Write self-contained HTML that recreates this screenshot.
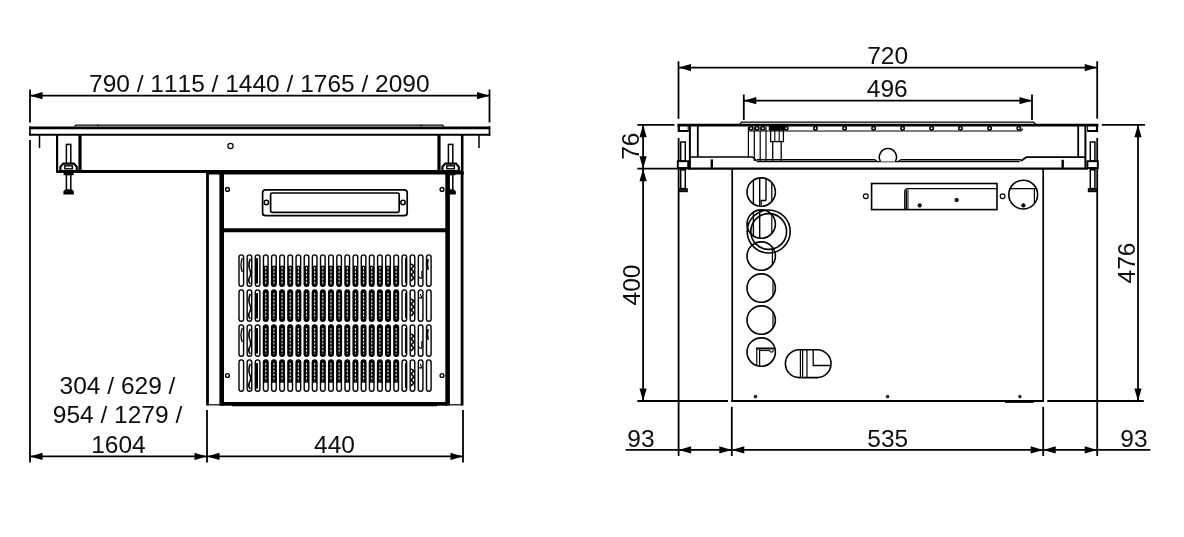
<!DOCTYPE html>
<html><head><meta charset="utf-8"><title>Dimensions</title>
<style>
html,body{margin:0;padding:0;background:#fff;}
body{width:1184px;height:537px;overflow:hidden;}
svg{display:block;will-change:transform;}
svg text{font-kerning:none;font-family:"Liberation Sans",Arial,sans-serif;font-size:24.5px;fill:#0d0d0d;stroke:none;}
</style></head><body>
<svg width="1184" height="537" viewBox="0 0 1184 537" stroke="#000" fill="none" stroke-linecap="butt">
<rect x="0" y="0" width="1184" height="537" fill="#fff" stroke="none"/>
<line x1="30" y1="89.5" x2="30" y2="122.5" stroke-width="1.8" />
<line x1="489.5" y1="89.5" x2="489.5" y2="122.5" stroke-width="1.8" />
<line x1="30" y1="95.7" x2="489.5" y2="95.7" stroke-width="1.8" />
<polygon points="30,95.7 42.5,92.10000000000001 42.5,99.3" fill="#000" stroke="none"/>
<polygon points="489.5,95.7 477.0,92.10000000000001 477.0,99.3" fill="#000" stroke="none"/>
<text x="259.3" y="92" text-anchor="middle">790 / 1115 / 1440 / 1765 / 2090</text>
<line x1="30" y1="140" x2="30" y2="462.5" stroke-width="1.8" />
<line x1="207" y1="410" x2="207" y2="462.5" stroke-width="1.8" />
<line x1="463" y1="410" x2="463" y2="462.5" stroke-width="1.8" />
<line x1="30" y1="456.4" x2="463" y2="456.4" stroke-width="1.8" />
<polygon points="30,456.4 42.5,452.79999999999995 42.5,460.0" fill="#000" stroke="none"/>
<polygon points="207,456.4 194.5,452.79999999999995 194.5,460.0" fill="#000" stroke="none"/>
<polygon points="207,456.4 219.5,452.79999999999995 219.5,460.0" fill="#000" stroke="none"/>
<polygon points="463,456.4 450.5,452.79999999999995 450.5,460.0" fill="#000" stroke="none"/>
<text x="334.5" y="452.5" text-anchor="middle">440</text>
<text x="117.5" y="394" text-anchor="middle">304 / 629 /</text>
<text x="117.5" y="423" text-anchor="middle">954 / 1279 /</text>
<text x="118.4" y="452.5" text-anchor="middle">1604</text>
<line x1="29.2" y1="127.8" x2="490.2" y2="127.8" stroke-width="2.8" />
<line x1="29.2" y1="134.7" x2="490.3" y2="134.7" stroke-width="2.0" />
<line x1="30" y1="126.2" x2="30" y2="135.6" stroke-width="1.7" />
<line x1="489.5" y1="126.2" x2="489.5" y2="135.6" stroke-width="1.7" />
<path d="M74.5 126.4 L76 125.2 L442.5 125.2 L444 126.4" stroke-width="1.2" fill="none" />
<line x1="98" y1="124.6" x2="98" y2="126.4" stroke-width="1" />
<line x1="421" y1="124.6" x2="421" y2="126.4" stroke-width="1" />
<line x1="39.5" y1="135" x2="39.5" y2="148" stroke-width="1.5" />
<line x1="479" y1="135" x2="479" y2="148" stroke-width="1.5" />
<line x1="57.1" y1="135" x2="57.1" y2="172.8" stroke-width="2.2" />
<line x1="57.1" y1="171.6" x2="81" y2="171.6" stroke-width="2.6" />
<line x1="80" y1="135" x2="80" y2="172.8" stroke-width="3.2" />
<line x1="462.2" y1="135" x2="462.2" y2="172" stroke-width="2.6" />
<line x1="439" y1="135" x2="439" y2="172.8" stroke-width="3.2" />
<line x1="439" y1="171.6" x2="462.5" y2="171.6" stroke-width="2.6" />
<line x1="80" y1="171.4" x2="439" y2="171.4" stroke-width="3" />
<circle cx="230.5" cy="146" r="2.6" stroke-width="1.2" fill="none"/>
<rect x="66.39999999999999" y="144.4" width="4.4" height="20" rx="0" stroke-width="1.5" fill="#fff"/>
<path d="M60.39999999999999 171 L60.39999999999999 166.8 L63.199999999999996 163.6 L74.0 163.6 L76.8 166.8 L76.8 171 Z" stroke-width="2.2" fill="#fff" />
<rect x="64.8" y="165.8" width="7.6" height="3" rx="0" stroke-width="1.4" fill="#fff"/>
<rect x="64.19999999999999" y="172.4" width="8.8" height="2.2" rx="0" stroke-width="1.2" fill="#000"/>
<rect x="66.39999999999999" y="174.6" width="4.4" height="15.6" rx="0" stroke-width="1.5" fill="#fff"/>
<path d="M63.99999999999999 194 L63.99999999999999 191.6 L65.39999999999999 190.2 L71.8 190.2 L73.19999999999999 191.6 L73.19999999999999 194 Z" stroke-width="1.2" fill="#000" />
<rect x="448.40000000000003" y="144.4" width="4.4" height="20" rx="0" stroke-width="1.5" fill="#fff"/>
<path d="M442.40000000000003 171 L442.40000000000003 166.8 L445.20000000000005 163.6 L456.0 163.6 L458.8 166.8 L458.8 171 Z" stroke-width="2.2" fill="#fff" />
<rect x="446.8" y="165.8" width="7.6" height="3" rx="0" stroke-width="1.4" fill="#fff"/>
<rect x="446.20000000000005" y="172.4" width="8.8" height="2.2" rx="0" stroke-width="1.2" fill="#000"/>
<rect x="448.40000000000003" y="174.6" width="4.4" height="15.6" rx="0" stroke-width="1.5" fill="#fff"/>
<path d="M446.0 194 L446.0 191.6 L447.40000000000003 190.2 L453.8 190.2 L455.20000000000005 191.6 L455.20000000000005 194 Z" stroke-width="1.2" fill="#000" />
<line x1="207.5" y1="171.4" x2="207.5" y2="405.4" stroke-width="2.8" />
<line x1="462.1" y1="171.4" x2="462.1" y2="405.4" stroke-width="2.8" />
<line x1="221.7" y1="171.4" x2="221.7" y2="405.6" stroke-width="4.6" />
<line x1="447.6" y1="171.4" x2="447.6" y2="405.6" stroke-width="4.6" />
<line x1="206.1" y1="173.2" x2="463.9" y2="173.2" stroke-width="2.6" />
<line x1="221" y1="230.3" x2="447.6" y2="230.3" stroke-width="4.1" />
<line x1="221" y1="403.9" x2="447.6" y2="403.9" stroke-width="3.6" />
<line x1="207" y1="404.8" x2="221" y2="404.8" stroke-width="1.2" />
<line x1="447.6" y1="404.8" x2="463" y2="404.8" stroke-width="1.2" />
<line x1="232" y1="405.6" x2="437" y2="405.6" stroke-width="1.4" />
<circle cx="227.5" cy="189.4" r="1.9" stroke-width="1.4" fill="none"/>
<circle cx="227.5" cy="375.5" r="1.9" stroke-width="1.4" fill="none"/>
<circle cx="442" cy="189.4" r="1.9" stroke-width="1.4" fill="none"/>
<circle cx="442" cy="375.5" r="1.9" stroke-width="1.4" fill="none"/>
<rect x="262.6" y="189.8" width="144.6" height="25.9" rx="3" stroke-width="1.7" fill="none"/>
<rect x="270.6" y="193" width="128.6" height="19.3" rx="1.5" stroke-width="1.7" fill="none"/>
<circle cx="266.4" cy="202.5" r="2.2" stroke-width="1.5" fill="none"/>
<circle cx="403" cy="202.5" r="2.2" stroke-width="1.5" fill="none"/>
<rect x="239.0" y="254.9" width="4.6" height="31.3" rx="2.3" stroke-width="1.4" fill="#fff"/>
<path d="M242.30 257.9 q-2.6 7 0 14" stroke-width="1.3" fill="none" />
<rect x="247.15" y="254.9" width="4.6" height="31.3" rx="2.3" stroke-width="1.4" fill="#fff"/>
<path d="M250.25 258.9 q-2.4 6 -0.4 11 q2 4 -0.6 8 q-1.4 3 1 6" stroke-width="1.6" fill="none" />
<rect x="255.3" y="254.9" width="4.6" height="31.3" rx="2.3" stroke-width="1.4" fill="#fff"/>
<path d="M255.90 258.1 L258.00 258.1 L258.00 283.59999999999997 L255.90 283.59999999999997 Z" stroke-width="0" fill="#000" />
<rect x="263.46" y="254.9" width="4.6" height="31.3" rx="2.3" stroke-width="1.4" fill="#fff"/>
<path d="M263.46 265.7 L268.06 265.7 L268.06 283.9 A2.3 2.3 0 0 1 263.46 283.9 Z" stroke-width="0" fill="#000" />
<line x1="265.76" y1="267.1" x2="265.76" y2="283.7" stroke-width="1.1" stroke="#e8e8e8" stroke-dasharray="2.3 1.3"/>
<rect x="271.61" y="254.9" width="4.6" height="31.3" rx="2.3" stroke-width="1.4" fill="#fff"/>
<path d="M271.61 265.7 L276.21 265.7 L276.21 283.9 A2.3 2.3 0 0 1 271.61 283.9 Z" stroke-width="0" fill="#000" />
<line x1="273.91" y1="267.1" x2="273.91" y2="283.7" stroke-width="1.1" stroke="#e8e8e8" stroke-dasharray="2.3 1.3"/>
<rect x="279.76" y="254.9" width="4.6" height="31.3" rx="2.3" stroke-width="1.4" fill="#fff"/>
<path d="M279.76 265.7 L284.36 265.7 L284.36 283.9 A2.3 2.3 0 0 1 279.76 283.9 Z" stroke-width="0" fill="#000" />
<line x1="282.06" y1="267.1" x2="282.06" y2="283.7" stroke-width="1.1" stroke="#e8e8e8" stroke-dasharray="2.3 1.3"/>
<rect x="287.91" y="254.9" width="4.6" height="31.3" rx="2.3" stroke-width="1.4" fill="#fff"/>
<path d="M287.91 265.7 L292.51 265.7 L292.51 283.9 A2.3 2.3 0 0 1 287.91 283.9 Z" stroke-width="0" fill="#000" />
<line x1="290.21" y1="267.1" x2="290.21" y2="283.7" stroke-width="1.1" stroke="#e8e8e8" stroke-dasharray="2.3 1.3"/>
<rect x="296.06" y="254.9" width="4.6" height="31.3" rx="2.3" stroke-width="1.4" fill="#fff"/>
<path d="M296.06 265.7 L300.66 265.7 L300.66 283.9 A2.3 2.3 0 0 1 296.06 283.9 Z" stroke-width="0" fill="#000" />
<line x1="298.36" y1="267.1" x2="298.36" y2="283.7" stroke-width="1.1" stroke="#e8e8e8" stroke-dasharray="2.3 1.3"/>
<rect x="304.22" y="254.9" width="4.6" height="31.3" rx="2.3" stroke-width="1.4" fill="#fff"/>
<path d="M304.22 265.7 L308.82 265.7 L308.82 283.9 A2.3 2.3 0 0 1 304.22 283.9 Z" stroke-width="0" fill="#000" />
<line x1="306.52" y1="267.1" x2="306.52" y2="283.7" stroke-width="1.1" stroke="#e8e8e8" stroke-dasharray="2.3 1.3"/>
<rect x="312.37" y="254.9" width="4.6" height="31.3" rx="2.3" stroke-width="1.4" fill="#fff"/>
<path d="M312.37 265.7 L316.97 265.7 L316.97 283.9 A2.3 2.3 0 0 1 312.37 283.9 Z" stroke-width="0" fill="#000" />
<line x1="314.67" y1="267.1" x2="314.67" y2="283.7" stroke-width="1.1" stroke="#e8e8e8" stroke-dasharray="2.3 1.3"/>
<rect x="320.52" y="254.9" width="4.6" height="31.3" rx="2.3" stroke-width="1.4" fill="#fff"/>
<path d="M320.52 265.7 L325.12 265.7 L325.12 283.9 A2.3 2.3 0 0 1 320.52 283.9 Z" stroke-width="0" fill="#000" />
<line x1="322.82" y1="267.1" x2="322.82" y2="283.7" stroke-width="1.1" stroke="#e8e8e8" stroke-dasharray="2.3 1.3"/>
<rect x="328.67" y="254.9" width="4.6" height="31.3" rx="2.3" stroke-width="1.4" fill="#fff"/>
<path d="M328.67 265.7 L333.27 265.7 L333.27 283.9 A2.3 2.3 0 0 1 328.67 283.9 Z" stroke-width="0" fill="#000" />
<line x1="330.97" y1="267.1" x2="330.97" y2="283.7" stroke-width="1.1" stroke="#e8e8e8" stroke-dasharray="2.3 1.3"/>
<rect x="336.82" y="254.9" width="4.6" height="31.3" rx="2.3" stroke-width="1.4" fill="#fff"/>
<path d="M336.82 265.7 L341.42 265.7 L341.42 283.9 A2.3 2.3 0 0 1 336.82 283.9 Z" stroke-width="0" fill="#000" />
<line x1="339.12" y1="267.1" x2="339.12" y2="283.7" stroke-width="1.1" stroke="#e8e8e8" stroke-dasharray="2.3 1.3"/>
<rect x="344.98" y="254.9" width="4.6" height="31.3" rx="2.3" stroke-width="1.4" fill="#fff"/>
<path d="M344.98 265.7 L349.58 265.7 L349.58 283.9 A2.3 2.3 0 0 1 344.98 283.9 Z" stroke-width="0" fill="#000" />
<line x1="347.28" y1="267.1" x2="347.28" y2="283.7" stroke-width="1.1" stroke="#e8e8e8" stroke-dasharray="2.3 1.3"/>
<rect x="353.13" y="254.9" width="4.6" height="31.3" rx="2.3" stroke-width="1.4" fill="#fff"/>
<path d="M353.13 265.7 L357.73 265.7 L357.73 283.9 A2.3 2.3 0 0 1 353.13 283.9 Z" stroke-width="0" fill="#000" />
<line x1="355.43" y1="267.1" x2="355.43" y2="283.7" stroke-width="1.1" stroke="#e8e8e8" stroke-dasharray="2.3 1.3"/>
<rect x="361.28" y="254.9" width="4.6" height="31.3" rx="2.3" stroke-width="1.4" fill="#fff"/>
<path d="M361.28 265.7 L365.88 265.7 L365.88 283.9 A2.3 2.3 0 0 1 361.28 283.9 Z" stroke-width="0" fill="#000" />
<line x1="363.58" y1="267.1" x2="363.58" y2="283.7" stroke-width="1.1" stroke="#e8e8e8" stroke-dasharray="2.3 1.3"/>
<rect x="369.43" y="254.9" width="4.6" height="31.3" rx="2.3" stroke-width="1.4" fill="#fff"/>
<path d="M369.43 265.7 L374.03 265.7 L374.03 283.9 A2.3 2.3 0 0 1 369.43 283.9 Z" stroke-width="0" fill="#000" />
<line x1="371.73" y1="267.1" x2="371.73" y2="283.7" stroke-width="1.1" stroke="#e8e8e8" stroke-dasharray="2.3 1.3"/>
<rect x="377.58" y="254.9" width="4.6" height="31.3" rx="2.3" stroke-width="1.4" fill="#fff"/>
<path d="M377.58 265.7 L382.18 265.7 L382.18 283.9 A2.3 2.3 0 0 1 377.58 283.9 Z" stroke-width="0" fill="#000" />
<line x1="379.88" y1="267.1" x2="379.88" y2="283.7" stroke-width="1.1" stroke="#e8e8e8" stroke-dasharray="2.3 1.3"/>
<rect x="385.74" y="254.9" width="4.6" height="31.3" rx="2.3" stroke-width="1.4" fill="#fff"/>
<path d="M385.74 265.7 L390.34 265.7 L390.34 283.9 A2.3 2.3 0 0 1 385.74 283.9 Z" stroke-width="0" fill="#000" />
<line x1="388.04" y1="267.1" x2="388.04" y2="283.7" stroke-width="1.1" stroke="#e8e8e8" stroke-dasharray="2.3 1.3"/>
<rect x="393.89" y="254.9" width="4.6" height="31.3" rx="2.3" stroke-width="1.4" fill="#fff"/>
<path d="M393.89 265.7 L398.49 265.7 L398.49 283.9 A2.3 2.3 0 0 1 393.89 283.9 Z" stroke-width="0" fill="#000" />
<line x1="396.19" y1="267.1" x2="396.19" y2="283.7" stroke-width="1.1" stroke="#e8e8e8" stroke-dasharray="2.3 1.3"/>
<rect x="402.04" y="254.9" width="4.6" height="31.3" rx="2.3" stroke-width="1.4" fill="#fff"/>
<line x1="405.44" y1="257.9" x2="405.44" y2="283.2" stroke-width="1.0" />
<rect x="410.19" y="254.9" width="4.6" height="31.3" rx="2.3" stroke-width="1.4" fill="#fff"/>
<path d="M411.09 263.9 l2.8 2 l-2.8 3 l2.8 3 l-2.8 3 l2.8 3 l-2.8 3" stroke-width="1.6" fill="none" />
<rect x="418.34" y="254.9" width="4.6" height="31.3" rx="2.3" stroke-width="1.4" fill="#fff"/>
<path d="M419.04 276.9 q2 3 3.4 0 M421.84 270.9 l0 7" stroke-width="1.1" fill="none" />
<rect x="426.5" y="254.9" width="4.6" height="31.3" rx="2.3" stroke-width="1.4" fill="#fff"/>
<path d="M428.20 258.9 q-1.6 5 0 11" stroke-width="1.5" fill="none" />
<rect x="239.0" y="289.9" width="4.6" height="31.3" rx="2.3" stroke-width="1.4" fill="#fff"/>
<rect x="247.15" y="289.9" width="4.6" height="31.3" rx="2.3" stroke-width="1.4" fill="#fff"/>
<path d="M250.25 293.9 q-2.4 6 -0.4 11 q2 4 -0.6 8 q-1.4 3 1 6" stroke-width="1.6" fill="none" />
<rect x="255.3" y="289.9" width="4.6" height="31.3" rx="2.3" stroke-width="1.4" fill="#fff"/>
<path d="M255.90 293.09999999999997 L258.00 293.09999999999997 L258.00 318.59999999999997 L255.90 318.59999999999997 Z" stroke-width="0" fill="#000" />
<rect x="263.46" y="289.9" width="4.6" height="31.3" rx="2.3" stroke-width="1.4" fill="#000"/>
<line x1="265.76" y1="292.9" x2="265.76" y2="318.7" stroke-width="1.1" stroke="#e8e8e8" stroke-dasharray="2.3 1.3"/>
<rect x="271.61" y="289.9" width="4.6" height="31.3" rx="2.3" stroke-width="1.4" fill="#000"/>
<line x1="273.91" y1="292.9" x2="273.91" y2="318.7" stroke-width="1.1" stroke="#e8e8e8" stroke-dasharray="2.3 1.3"/>
<rect x="279.76" y="289.9" width="4.6" height="31.3" rx="2.3" stroke-width="1.4" fill="#000"/>
<line x1="282.06" y1="292.9" x2="282.06" y2="318.7" stroke-width="1.1" stroke="#e8e8e8" stroke-dasharray="2.3 1.3"/>
<rect x="287.91" y="289.9" width="4.6" height="31.3" rx="2.3" stroke-width="1.4" fill="#000"/>
<line x1="290.21" y1="292.9" x2="290.21" y2="318.7" stroke-width="1.1" stroke="#e8e8e8" stroke-dasharray="2.3 1.3"/>
<rect x="296.06" y="289.9" width="4.6" height="31.3" rx="2.3" stroke-width="1.4" fill="#000"/>
<line x1="298.36" y1="292.9" x2="298.36" y2="318.7" stroke-width="1.1" stroke="#e8e8e8" stroke-dasharray="2.3 1.3"/>
<rect x="304.22" y="289.9" width="4.6" height="31.3" rx="2.3" stroke-width="1.4" fill="#000"/>
<line x1="306.52" y1="292.9" x2="306.52" y2="318.7" stroke-width="1.1" stroke="#e8e8e8" stroke-dasharray="2.3 1.3"/>
<rect x="312.37" y="289.9" width="4.6" height="31.3" rx="2.3" stroke-width="1.4" fill="#000"/>
<line x1="314.67" y1="292.9" x2="314.67" y2="318.7" stroke-width="1.1" stroke="#e8e8e8" stroke-dasharray="2.3 1.3"/>
<rect x="320.52" y="289.9" width="4.6" height="31.3" rx="2.3" stroke-width="1.4" fill="#000"/>
<line x1="322.82" y1="292.9" x2="322.82" y2="318.7" stroke-width="1.1" stroke="#e8e8e8" stroke-dasharray="2.3 1.3"/>
<rect x="328.67" y="289.9" width="4.6" height="31.3" rx="2.3" stroke-width="1.4" fill="#000"/>
<line x1="330.97" y1="292.9" x2="330.97" y2="318.7" stroke-width="1.1" stroke="#e8e8e8" stroke-dasharray="2.3 1.3"/>
<rect x="336.82" y="289.9" width="4.6" height="31.3" rx="2.3" stroke-width="1.4" fill="#000"/>
<line x1="339.12" y1="292.9" x2="339.12" y2="318.7" stroke-width="1.1" stroke="#e8e8e8" stroke-dasharray="2.3 1.3"/>
<rect x="344.98" y="289.9" width="4.6" height="31.3" rx="2.3" stroke-width="1.4" fill="#000"/>
<line x1="347.28" y1="292.9" x2="347.28" y2="318.7" stroke-width="1.1" stroke="#e8e8e8" stroke-dasharray="2.3 1.3"/>
<rect x="353.13" y="289.9" width="4.6" height="31.3" rx="2.3" stroke-width="1.4" fill="#000"/>
<line x1="355.43" y1="292.9" x2="355.43" y2="318.7" stroke-width="1.1" stroke="#e8e8e8" stroke-dasharray="2.3 1.3"/>
<rect x="361.28" y="289.9" width="4.6" height="31.3" rx="2.3" stroke-width="1.4" fill="#000"/>
<line x1="363.58" y1="292.9" x2="363.58" y2="318.7" stroke-width="1.1" stroke="#e8e8e8" stroke-dasharray="2.3 1.3"/>
<rect x="369.43" y="289.9" width="4.6" height="31.3" rx="2.3" stroke-width="1.4" fill="#000"/>
<line x1="371.73" y1="292.9" x2="371.73" y2="318.7" stroke-width="1.1" stroke="#e8e8e8" stroke-dasharray="2.3 1.3"/>
<rect x="377.58" y="289.9" width="4.6" height="31.3" rx="2.3" stroke-width="1.4" fill="#000"/>
<line x1="379.88" y1="292.9" x2="379.88" y2="318.7" stroke-width="1.1" stroke="#e8e8e8" stroke-dasharray="2.3 1.3"/>
<rect x="385.74" y="289.9" width="4.6" height="31.3" rx="2.3" stroke-width="1.4" fill="#000"/>
<line x1="388.04" y1="292.9" x2="388.04" y2="318.7" stroke-width="1.1" stroke="#e8e8e8" stroke-dasharray="2.3 1.3"/>
<rect x="393.89" y="289.9" width="4.6" height="31.3" rx="2.3" stroke-width="1.4" fill="#000"/>
<line x1="396.19" y1="292.9" x2="396.19" y2="318.7" stroke-width="1.1" stroke="#e8e8e8" stroke-dasharray="2.3 1.3"/>
<rect x="402.04" y="289.9" width="4.6" height="31.3" rx="2.3" stroke-width="1.4" fill="#fff"/>
<line x1="405.44" y1="292.9" x2="405.44" y2="318.2" stroke-width="1.0" />
<rect x="410.19" y="289.9" width="4.6" height="31.3" rx="2.3" stroke-width="1.4" fill="#fff"/>
<path d="M411.09 298.9 l2.8 2 l-2.8 3 l2.8 3 l-2.8 3 l2.8 3 l-2.8 3" stroke-width="1.6" fill="none" />
<rect x="418.34" y="289.9" width="4.6" height="31.3" rx="2.3" stroke-width="1.4" fill="#fff"/>
<path d="M419.04 297.9 l3.4 0 M420.24 293.9 l1.6 4" stroke-width="1.1" fill="none" />
<rect x="426.5" y="289.9" width="4.6" height="31.3" rx="2.3" stroke-width="1.4" fill="#fff"/>
<rect x="239.0" y="324.9" width="4.6" height="31.3" rx="2.3" stroke-width="1.4" fill="#fff"/>
<path d="M242.30 327.9 q-2.6 7 0 14" stroke-width="1.3" fill="none" />
<rect x="247.15" y="324.9" width="4.6" height="31.3" rx="2.3" stroke-width="1.4" fill="#fff"/>
<path d="M250.25 328.9 q-2.4 6 -0.4 11 q2 4 -0.6 8 q-1.4 3 1 6" stroke-width="1.6" fill="none" />
<rect x="255.3" y="324.9" width="4.6" height="31.3" rx="2.3" stroke-width="1.4" fill="#fff"/>
<path d="M255.90 328.09999999999997 L258.00 328.09999999999997 L258.00 353.59999999999997 L255.90 353.59999999999997 Z" stroke-width="0" fill="#000" />
<rect x="263.46" y="324.9" width="4.6" height="31.3" rx="2.3" stroke-width="1.4" fill="#000"/>
<line x1="265.76" y1="327.9" x2="265.76" y2="353.7" stroke-width="1.1" stroke="#e8e8e8" stroke-dasharray="2.3 1.3"/>
<rect x="271.61" y="324.9" width="4.6" height="31.3" rx="2.3" stroke-width="1.4" fill="#000"/>
<line x1="273.91" y1="327.9" x2="273.91" y2="353.7" stroke-width="1.1" stroke="#e8e8e8" stroke-dasharray="2.3 1.3"/>
<rect x="279.76" y="324.9" width="4.6" height="31.3" rx="2.3" stroke-width="1.4" fill="#000"/>
<line x1="282.06" y1="327.9" x2="282.06" y2="353.7" stroke-width="1.1" stroke="#e8e8e8" stroke-dasharray="2.3 1.3"/>
<rect x="287.91" y="324.9" width="4.6" height="31.3" rx="2.3" stroke-width="1.4" fill="#000"/>
<line x1="290.21" y1="327.9" x2="290.21" y2="353.7" stroke-width="1.1" stroke="#e8e8e8" stroke-dasharray="2.3 1.3"/>
<rect x="296.06" y="324.9" width="4.6" height="31.3" rx="2.3" stroke-width="1.4" fill="#000"/>
<line x1="298.36" y1="327.9" x2="298.36" y2="353.7" stroke-width="1.1" stroke="#e8e8e8" stroke-dasharray="2.3 1.3"/>
<rect x="304.22" y="324.9" width="4.6" height="31.3" rx="2.3" stroke-width="1.4" fill="#000"/>
<line x1="306.52" y1="327.9" x2="306.52" y2="353.7" stroke-width="1.1" stroke="#e8e8e8" stroke-dasharray="2.3 1.3"/>
<rect x="312.37" y="324.9" width="4.6" height="31.3" rx="2.3" stroke-width="1.4" fill="#000"/>
<line x1="314.67" y1="327.9" x2="314.67" y2="353.7" stroke-width="1.1" stroke="#e8e8e8" stroke-dasharray="2.3 1.3"/>
<rect x="320.52" y="324.9" width="4.6" height="31.3" rx="2.3" stroke-width="1.4" fill="#000"/>
<line x1="322.82" y1="327.9" x2="322.82" y2="353.7" stroke-width="1.1" stroke="#e8e8e8" stroke-dasharray="2.3 1.3"/>
<rect x="328.67" y="324.9" width="4.6" height="31.3" rx="2.3" stroke-width="1.4" fill="#000"/>
<line x1="330.97" y1="327.9" x2="330.97" y2="353.7" stroke-width="1.1" stroke="#e8e8e8" stroke-dasharray="2.3 1.3"/>
<rect x="336.82" y="324.9" width="4.6" height="31.3" rx="2.3" stroke-width="1.4" fill="#000"/>
<line x1="339.12" y1="327.9" x2="339.12" y2="353.7" stroke-width="1.1" stroke="#e8e8e8" stroke-dasharray="2.3 1.3"/>
<rect x="344.98" y="324.9" width="4.6" height="31.3" rx="2.3" stroke-width="1.4" fill="#000"/>
<line x1="347.28" y1="327.9" x2="347.28" y2="353.7" stroke-width="1.1" stroke="#e8e8e8" stroke-dasharray="2.3 1.3"/>
<rect x="353.13" y="324.9" width="4.6" height="31.3" rx="2.3" stroke-width="1.4" fill="#000"/>
<line x1="355.43" y1="327.9" x2="355.43" y2="353.7" stroke-width="1.1" stroke="#e8e8e8" stroke-dasharray="2.3 1.3"/>
<rect x="361.28" y="324.9" width="4.6" height="31.3" rx="2.3" stroke-width="1.4" fill="#000"/>
<line x1="363.58" y1="327.9" x2="363.58" y2="353.7" stroke-width="1.1" stroke="#e8e8e8" stroke-dasharray="2.3 1.3"/>
<rect x="369.43" y="324.9" width="4.6" height="31.3" rx="2.3" stroke-width="1.4" fill="#000"/>
<line x1="371.73" y1="327.9" x2="371.73" y2="353.7" stroke-width="1.1" stroke="#e8e8e8" stroke-dasharray="2.3 1.3"/>
<rect x="377.58" y="324.9" width="4.6" height="31.3" rx="2.3" stroke-width="1.4" fill="#000"/>
<line x1="379.88" y1="327.9" x2="379.88" y2="353.7" stroke-width="1.1" stroke="#e8e8e8" stroke-dasharray="2.3 1.3"/>
<rect x="385.74" y="324.9" width="4.6" height="31.3" rx="2.3" stroke-width="1.4" fill="#000"/>
<line x1="388.04" y1="327.9" x2="388.04" y2="353.7" stroke-width="1.1" stroke="#e8e8e8" stroke-dasharray="2.3 1.3"/>
<rect x="393.89" y="324.9" width="4.6" height="31.3" rx="2.3" stroke-width="1.4" fill="#000"/>
<line x1="396.19" y1="327.9" x2="396.19" y2="353.7" stroke-width="1.1" stroke="#e8e8e8" stroke-dasharray="2.3 1.3"/>
<rect x="402.04" y="324.9" width="4.6" height="31.3" rx="2.3" stroke-width="1.4" fill="#fff"/>
<line x1="405.44" y1="327.9" x2="405.44" y2="353.2" stroke-width="1.0" />
<rect x="410.19" y="324.9" width="4.6" height="31.3" rx="2.3" stroke-width="1.4" fill="#fff"/>
<path d="M411.09 333.9 l2.8 2 l-2.8 3 l2.8 3 l-2.8 3 l2.8 3 l-2.8 3" stroke-width="1.6" fill="none" />
<rect x="418.34" y="324.9" width="4.6" height="31.3" rx="2.3" stroke-width="1.4" fill="#fff"/>
<path d="M419.04 346.9 q2 3 3.4 0 M421.84 340.9 l0 7" stroke-width="1.1" fill="none" />
<rect x="426.5" y="324.9" width="4.6" height="31.3" rx="2.3" stroke-width="1.4" fill="#fff"/>
<path d="M428.20 328.9 q-1.6 5 0 11" stroke-width="1.5" fill="none" />
<rect x="239.0" y="359.9" width="4.6" height="31.3" rx="2.3" stroke-width="1.4" fill="#fff"/>
<rect x="247.15" y="359.9" width="4.6" height="31.3" rx="2.3" stroke-width="1.4" fill="#fff"/>
<path d="M250.25 363.9 q-2.4 6 -0.4 11 q2 4 -0.6 8 q-1.4 3 1 6" stroke-width="1.6" fill="none" />
<rect x="255.3" y="359.9" width="4.6" height="31.3" rx="2.3" stroke-width="1.4" fill="#fff"/>
<path d="M255.90 363.09999999999997 L258.00 363.09999999999997 L258.00 388.59999999999997 L255.90 388.59999999999997 Z" stroke-width="0" fill="#000" />
<rect x="263.46" y="359.9" width="4.6" height="31.3" rx="2.3" stroke-width="1.4" fill="#fff"/>
<path d="M263.46 382.8 L268.06 382.8 L268.06 362.2 A2.3 2.3 0 0 0 263.46 362.2 Z" stroke-width="0" fill="#000" />
<line x1="265.76" y1="362.9" x2="265.76" y2="381.59999999999997" stroke-width="1.1" stroke="#e8e8e8" stroke-dasharray="2.3 1.3"/>
<rect x="271.61" y="359.9" width="4.6" height="31.3" rx="2.3" stroke-width="1.4" fill="#fff"/>
<path d="M271.61 382.8 L276.21 382.8 L276.21 362.2 A2.3 2.3 0 0 0 271.61 362.2 Z" stroke-width="0" fill="#000" />
<line x1="273.91" y1="362.9" x2="273.91" y2="381.59999999999997" stroke-width="1.1" stroke="#e8e8e8" stroke-dasharray="2.3 1.3"/>
<rect x="279.76" y="359.9" width="4.6" height="31.3" rx="2.3" stroke-width="1.4" fill="#fff"/>
<path d="M279.76 382.8 L284.36 382.8 L284.36 362.2 A2.3 2.3 0 0 0 279.76 362.2 Z" stroke-width="0" fill="#000" />
<line x1="282.06" y1="362.9" x2="282.06" y2="381.59999999999997" stroke-width="1.1" stroke="#e8e8e8" stroke-dasharray="2.3 1.3"/>
<rect x="287.91" y="359.9" width="4.6" height="31.3" rx="2.3" stroke-width="1.4" fill="#fff"/>
<path d="M287.91 382.8 L292.51 382.8 L292.51 362.2 A2.3 2.3 0 0 0 287.91 362.2 Z" stroke-width="0" fill="#000" />
<line x1="290.21" y1="362.9" x2="290.21" y2="381.59999999999997" stroke-width="1.1" stroke="#e8e8e8" stroke-dasharray="2.3 1.3"/>
<rect x="296.06" y="359.9" width="4.6" height="31.3" rx="2.3" stroke-width="1.4" fill="#fff"/>
<path d="M296.06 382.8 L300.66 382.8 L300.66 362.2 A2.3 2.3 0 0 0 296.06 362.2 Z" stroke-width="0" fill="#000" />
<line x1="298.36" y1="362.9" x2="298.36" y2="381.59999999999997" stroke-width="1.1" stroke="#e8e8e8" stroke-dasharray="2.3 1.3"/>
<rect x="304.22" y="359.9" width="4.6" height="31.3" rx="2.3" stroke-width="1.4" fill="#fff"/>
<path d="M304.22 382.8 L308.82 382.8 L308.82 362.2 A2.3 2.3 0 0 0 304.22 362.2 Z" stroke-width="0" fill="#000" />
<line x1="306.52" y1="362.9" x2="306.52" y2="381.59999999999997" stroke-width="1.1" stroke="#e8e8e8" stroke-dasharray="2.3 1.3"/>
<rect x="312.37" y="359.9" width="4.6" height="31.3" rx="2.3" stroke-width="1.4" fill="#fff"/>
<path d="M312.37 382.8 L316.97 382.8 L316.97 362.2 A2.3 2.3 0 0 0 312.37 362.2 Z" stroke-width="0" fill="#000" />
<line x1="314.67" y1="362.9" x2="314.67" y2="381.59999999999997" stroke-width="1.1" stroke="#e8e8e8" stroke-dasharray="2.3 1.3"/>
<rect x="320.52" y="359.9" width="4.6" height="31.3" rx="2.3" stroke-width="1.4" fill="#fff"/>
<path d="M320.52 382.8 L325.12 382.8 L325.12 362.2 A2.3 2.3 0 0 0 320.52 362.2 Z" stroke-width="0" fill="#000" />
<line x1="322.82" y1="362.9" x2="322.82" y2="381.59999999999997" stroke-width="1.1" stroke="#e8e8e8" stroke-dasharray="2.3 1.3"/>
<rect x="328.67" y="359.9" width="4.6" height="31.3" rx="2.3" stroke-width="1.4" fill="#fff"/>
<path d="M328.67 382.8 L333.27 382.8 L333.27 362.2 A2.3 2.3 0 0 0 328.67 362.2 Z" stroke-width="0" fill="#000" />
<line x1="330.97" y1="362.9" x2="330.97" y2="381.59999999999997" stroke-width="1.1" stroke="#e8e8e8" stroke-dasharray="2.3 1.3"/>
<rect x="336.82" y="359.9" width="4.6" height="31.3" rx="2.3" stroke-width="1.4" fill="#fff"/>
<path d="M336.82 382.8 L341.42 382.8 L341.42 362.2 A2.3 2.3 0 0 0 336.82 362.2 Z" stroke-width="0" fill="#000" />
<line x1="339.12" y1="362.9" x2="339.12" y2="381.59999999999997" stroke-width="1.1" stroke="#e8e8e8" stroke-dasharray="2.3 1.3"/>
<rect x="344.98" y="359.9" width="4.6" height="31.3" rx="2.3" stroke-width="1.4" fill="#fff"/>
<path d="M344.98 382.8 L349.58 382.8 L349.58 362.2 A2.3 2.3 0 0 0 344.98 362.2 Z" stroke-width="0" fill="#000" />
<line x1="347.28" y1="362.9" x2="347.28" y2="381.59999999999997" stroke-width="1.1" stroke="#e8e8e8" stroke-dasharray="2.3 1.3"/>
<rect x="353.13" y="359.9" width="4.6" height="31.3" rx="2.3" stroke-width="1.4" fill="#fff"/>
<path d="M353.13 382.8 L357.73 382.8 L357.73 362.2 A2.3 2.3 0 0 0 353.13 362.2 Z" stroke-width="0" fill="#000" />
<line x1="355.43" y1="362.9" x2="355.43" y2="381.59999999999997" stroke-width="1.1" stroke="#e8e8e8" stroke-dasharray="2.3 1.3"/>
<rect x="361.28" y="359.9" width="4.6" height="31.3" rx="2.3" stroke-width="1.4" fill="#fff"/>
<path d="M361.28 382.8 L365.88 382.8 L365.88 362.2 A2.3 2.3 0 0 0 361.28 362.2 Z" stroke-width="0" fill="#000" />
<line x1="363.58" y1="362.9" x2="363.58" y2="381.59999999999997" stroke-width="1.1" stroke="#e8e8e8" stroke-dasharray="2.3 1.3"/>
<rect x="369.43" y="359.9" width="4.6" height="31.3" rx="2.3" stroke-width="1.4" fill="#fff"/>
<path d="M369.43 382.8 L374.03 382.8 L374.03 362.2 A2.3 2.3 0 0 0 369.43 362.2 Z" stroke-width="0" fill="#000" />
<line x1="371.73" y1="362.9" x2="371.73" y2="381.59999999999997" stroke-width="1.1" stroke="#e8e8e8" stroke-dasharray="2.3 1.3"/>
<rect x="377.58" y="359.9" width="4.6" height="31.3" rx="2.3" stroke-width="1.4" fill="#fff"/>
<path d="M377.58 382.8 L382.18 382.8 L382.18 362.2 A2.3 2.3 0 0 0 377.58 362.2 Z" stroke-width="0" fill="#000" />
<line x1="379.88" y1="362.9" x2="379.88" y2="381.59999999999997" stroke-width="1.1" stroke="#e8e8e8" stroke-dasharray="2.3 1.3"/>
<rect x="385.74" y="359.9" width="4.6" height="31.3" rx="2.3" stroke-width="1.4" fill="#fff"/>
<path d="M385.74 382.8 L390.34 382.8 L390.34 362.2 A2.3 2.3 0 0 0 385.74 362.2 Z" stroke-width="0" fill="#000" />
<line x1="388.04" y1="362.9" x2="388.04" y2="381.59999999999997" stroke-width="1.1" stroke="#e8e8e8" stroke-dasharray="2.3 1.3"/>
<rect x="393.89" y="359.9" width="4.6" height="31.3" rx="2.3" stroke-width="1.4" fill="#fff"/>
<path d="M393.89 382.8 L398.49 382.8 L398.49 362.2 A2.3 2.3 0 0 0 393.89 362.2 Z" stroke-width="0" fill="#000" />
<line x1="396.19" y1="362.9" x2="396.19" y2="381.59999999999997" stroke-width="1.1" stroke="#e8e8e8" stroke-dasharray="2.3 1.3"/>
<rect x="402.04" y="359.9" width="4.6" height="31.3" rx="2.3" stroke-width="1.4" fill="#fff"/>
<line x1="405.44" y1="362.9" x2="405.44" y2="388.2" stroke-width="1.0" />
<rect x="410.19" y="359.9" width="4.6" height="31.3" rx="2.3" stroke-width="1.4" fill="#fff"/>
<path d="M411.09 368.9 l2.8 2 l-2.8 3 l2.8 3 l-2.8 3 l2.8 3 l-2.8 3" stroke-width="1.6" fill="none" />
<rect x="418.34" y="359.9" width="4.6" height="31.3" rx="2.3" stroke-width="1.4" fill="#fff"/>
<path d="M419.04 367.9 l3.4 0 M420.24 363.9 l1.6 4" stroke-width="1.1" fill="none" />
<rect x="426.5" y="359.9" width="4.6" height="31.3" rx="2.3" stroke-width="1.4" fill="#fff"/>
<line x1="678.5" y1="61.3" x2="678.5" y2="118.8" stroke-width="1.8" />
<line x1="1097.2" y1="61.3" x2="1097.2" y2="118.8" stroke-width="1.8" />
<line x1="678.5" y1="67.6" x2="1097.2" y2="67.6" stroke-width="1.8" />
<polygon points="678.5,67.6 691.0,63.99999999999999 691.0,71.19999999999999" fill="#000" stroke="none"/>
<polygon points="1097.2,67.6 1084.7,63.99999999999999 1084.7,71.19999999999999" fill="#000" stroke="none"/>
<text x="887.6" y="64" text-anchor="middle">720</text>
<line x1="743.8" y1="94.5" x2="743.8" y2="120" stroke-width="1.8" />
<line x1="1032" y1="94.5" x2="1032" y2="120" stroke-width="1.8" />
<line x1="743.8" y1="100.7" x2="1032" y2="100.7" stroke-width="1.8" />
<polygon points="743.8,100.7 756.3,97.10000000000001 756.3,104.3" fill="#000" stroke="none"/>
<polygon points="1032,100.7 1019.5,97.10000000000001 1019.5,104.3" fill="#000" stroke="none"/>
<text x="887.3" y="96.5" text-anchor="middle">496</text>
<line x1="637.3" y1="124.8" x2="674.5" y2="124.8" stroke-width="1.8" />
<line x1="637.3" y1="168.7" x2="690" y2="168.7" stroke-width="1.8" />
<line x1="637.4" y1="401" x2="728" y2="401" stroke-width="1.8" />
<line x1="643.1" y1="124.8" x2="643.1" y2="401" stroke-width="1.8" />
<polygon points="643.1,124.8 639.5,137.3 646.7,137.3" fill="#000" stroke="none"/>
<polygon points="643.1,168.7 639.5,156.2 646.7,156.2" fill="#000" stroke="none"/>
<polygon points="643.1,168.7 639.5,181.2 646.7,181.2" fill="#000" stroke="none"/>
<polygon points="643.1,401 639.5,388.5 646.7,388.5" fill="#000" stroke="none"/>
<text x="638.6" y="146.2" text-anchor="middle" transform="rotate(-90 638.6 146.2)">76</text>
<text x="639.7" y="285" text-anchor="middle" transform="rotate(-90 639.7 285)">400</text>
<line x1="1101.8" y1="124.8" x2="1145" y2="124.8" stroke-width="1.8" />
<line x1="1047.3" y1="401" x2="1143.8" y2="401" stroke-width="1.8" />
<line x1="1138" y1="124.8" x2="1138" y2="401" stroke-width="1.8" />
<polygon points="1138,124.8 1134.4,137.3 1141.6,137.3" fill="#000" stroke="none"/>
<polygon points="1138,401 1134.4,388.5 1141.6,388.5" fill="#000" stroke="none"/>
<text x="1134.6" y="263" text-anchor="middle" transform="rotate(-90 1134.6 263)">476</text>
<line x1="678.6" y1="191" x2="678.6" y2="456" stroke-width="1.8" />
<line x1="1097.2" y1="191" x2="1097.2" y2="456" stroke-width="1.8" />
<line x1="731.8" y1="406.8" x2="731.8" y2="456" stroke-width="1.8" />
<line x1="1043.2" y1="406.8" x2="1043.2" y2="456" stroke-width="1.8" />
<line x1="625.7" y1="449.9" x2="1150.3" y2="449.9" stroke-width="1.8" />
<polygon points="678.6,449.9 691.1,446.29999999999995 691.1,453.5" fill="#000" stroke="none"/>
<polygon points="731.8,449.9 719.3,446.29999999999995 719.3,453.5" fill="#000" stroke="none"/>
<polygon points="731.8,449.9 744.3,446.29999999999995 744.3,453.5" fill="#000" stroke="none"/>
<polygon points="1043.2,449.9 1030.7,446.29999999999995 1030.7,453.5" fill="#000" stroke="none"/>
<polygon points="1043.2,449.9 1055.7,446.29999999999995 1055.7,453.5" fill="#000" stroke="none"/>
<polygon points="1097.2,449.9 1084.7,446.29999999999995 1084.7,453.5" fill="#000" stroke="none"/>
<text x="640.9" y="446.6" text-anchor="middle">93</text>
<text x="887.7" y="446.6" text-anchor="middle">535</text>
<text x="1134" y="446.6" text-anchor="middle">93</text>
<line x1="677.4" y1="125.1" x2="1098.4" y2="125.1" stroke-width="2.6" />
<line x1="678.6" y1="138" x2="678.6" y2="191" stroke-width="1.8" />
<line x1="1097.2" y1="138" x2="1097.2" y2="191" stroke-width="1.8" />
<path d="M688.6 131 L678.8 131 L678.8 125" stroke-width="2.2" fill="none" />
<line x1="688.2" y1="126" x2="688.2" y2="131" stroke-width="1.0" />
<path d="M1087.2 131 L1097 131 L1097 125" stroke-width="2.2" fill="none" />
<line x1="1087.6" y1="126" x2="1087.6" y2="131" stroke-width="1.0" />
<line x1="689.9" y1="126" x2="689.9" y2="168.6" stroke-width="2.0" />
<line x1="697.8" y1="126" x2="697.8" y2="157" stroke-width="1.8" />
<line x1="1085.4" y1="126" x2="1085.4" y2="168.6" stroke-width="2.0" />
<line x1="1078.2" y1="126" x2="1078.2" y2="157" stroke-width="1.8" />
<path d="M690 157 L752.6 157 L756.8 161" stroke-width="1.7" fill="none" />
<path d="M1085.4 157.2 L1026.4 157.2 L1020.8 161" stroke-width="1.7" fill="none" />
<path d="M739.2 125 L741.5 122.2 L1033.6 122.2 L1036.2 125" stroke-width="1.2" fill="none" />
<path d="M748.4 131 L1019 131 Q1022.4 131 1022.4 128.4" stroke-width="1.2" fill="none" />
<circle cx="751" cy="128.2" r="1.7" stroke-width="1.6" fill="none"/>
<circle cx="757" cy="128.2" r="1.7" stroke-width="1.6" fill="none"/>
<circle cx="763" cy="128.2" r="1.7" stroke-width="1.6" fill="none"/>
<circle cx="786.2" cy="128.2" r="1.7" stroke-width="1.6" fill="none"/>
<circle cx="815.4" cy="128.2" r="1.7" stroke-width="1.6" fill="none"/>
<circle cx="844.6" cy="128.2" r="1.7" stroke-width="1.6" fill="none"/>
<circle cx="873.6" cy="128.2" r="1.7" stroke-width="1.6" fill="none"/>
<circle cx="902.6" cy="128.2" r="1.7" stroke-width="1.6" fill="none"/>
<circle cx="931.6" cy="128.2" r="1.7" stroke-width="1.6" fill="none"/>
<circle cx="960.4" cy="128.2" r="1.7" stroke-width="1.6" fill="none"/>
<circle cx="989.6" cy="128.2" r="1.7" stroke-width="1.6" fill="none"/>
<circle cx="1018.8" cy="128.2" r="1.7" stroke-width="1.6" fill="none"/>
<line x1="748.4" y1="127" x2="748.4" y2="157" stroke-width="1.2" />
<line x1="754.3" y1="127" x2="754.3" y2="161" stroke-width="1.2" />
<line x1="760.2" y1="127" x2="760.2" y2="161" stroke-width="1.2" />
<line x1="766" y1="127" x2="766" y2="161" stroke-width="1.2" />
<rect x="769.4" y="126.6" width="15.2" height="3" rx="0" stroke-width="1.2" fill="#000"/>
<rect x="770.6" y="130" width="12.8" height="11.6" rx="0" stroke-width="1.3" fill="none"/>
<line x1="774.8" y1="130" x2="774.8" y2="141.6" stroke-width="1.1" />
<line x1="779.2" y1="130" x2="779.2" y2="141.6" stroke-width="1.1" />
<line x1="772.7" y1="141.6" x2="772.7" y2="161" stroke-width="1.3" />
<line x1="781.2" y1="141.6" x2="781.2" y2="161" stroke-width="1.3" />
<line x1="756.8" y1="159.8" x2="875" y2="159.8" stroke-width="1.4" />
<line x1="900.6" y1="159.8" x2="1021" y2="159.8" stroke-width="1.4" />
<line x1="756.8" y1="161.6" x2="1019.6" y2="161.6" stroke-width="1.3" />
<path d="M875 159.8 L877.2 161.4 M900.6 159.8 L898 161.4" stroke-width="1.2" fill="none" />
<path d="M880.4 161.4 A8.6 8.6 0 1 1 895.4 161.4" stroke-width="1.5" fill="#fff" />
<line x1="688" y1="168.7" x2="1088" y2="168.7" stroke-width="2.3" />
<line x1="711.8" y1="159.4" x2="711.8" y2="168" stroke-width="2.4" />
<line x1="1062.7" y1="159.8" x2="1062.7" y2="168" stroke-width="2.4" />
<rect x="680.7" y="142" width="4.6" height="19" rx="0" stroke-width="1.5" fill="#fff"/>
<rect x="677.8" y="161.2" width="10.4" height="6.8" rx="0" stroke-width="1.9" fill="#fff"/>
<rect x="680.7" y="169" width="4.6" height="19.6" rx="0" stroke-width="1.5" fill="#fff"/>
<line x1="680.2" y1="169.8" x2="685.8" y2="169.8" stroke-width="1.6" />
<rect x="678.8" y="188.8" width="8.4" height="2.8" rx="0" stroke-width="1.2" fill="#222"/>
<rect x="1090.3" y="142" width="4.6" height="19" rx="0" stroke-width="1.5" fill="#fff"/>
<rect x="1087.3999999999999" y="161.2" width="10.4" height="6.8" rx="0" stroke-width="1.9" fill="#fff"/>
<rect x="1090.3" y="169" width="4.6" height="19.6" rx="0" stroke-width="1.5" fill="#fff"/>
<line x1="1089.8" y1="169.8" x2="1095.3999999999999" y2="169.8" stroke-width="1.6" />
<rect x="1088.3999999999999" y="188.8" width="8.4" height="2.8" rx="0" stroke-width="1.2" fill="#222"/>
<line x1="732.2" y1="168.7" x2="732.2" y2="401.9" stroke-width="1.7" />
<line x1="1043.2" y1="168.7" x2="1043.2" y2="401.9" stroke-width="1.7" />
<line x1="731.4" y1="401" x2="1044" y2="401" stroke-width="1.8" />
<line x1="1005" y1="401.8" x2="1033.6" y2="401.8" stroke-width="2.2" />
<circle cx="755.5" cy="396.6" r="1.4" stroke-width="0.6" fill="#000"/>
<circle cx="887.6" cy="396.6" r="1.4" stroke-width="0.6" fill="#000"/>
<circle cx="1019.9" cy="396.6" r="1.4" stroke-width="0.6" fill="#000"/>
<circle cx="761.2" cy="192.1" r="14.2" stroke-width="1.6" fill="none"/>
<circle cx="761.2" cy="224.1" r="14.2" stroke-width="1.6" fill="none"/>
<circle cx="761.2" cy="256.1" r="14.2" stroke-width="1.6" fill="none"/>
<circle cx="761.2" cy="288.1" r="14.2" stroke-width="1.6" fill="none"/>
<circle cx="761.2" cy="320.1" r="14.2" stroke-width="1.6" fill="none"/>
<circle cx="761.2" cy="352.1" r="14.2" stroke-width="1.6" fill="none"/>
<line x1="753.4" y1="180.23" x2="753.4" y2="203.97" stroke-width="1.4" />
<line x1="759.7" y1="177.98" x2="759.7" y2="206.22" stroke-width="1.4" />
<line x1="766" y1="178.74" x2="766" y2="200.5" stroke-width="1.4" />
<line x1="771.8" y1="182.65" x2="771.8" y2="201.55" stroke-width="1.3" />
<path d="M766 200.5 L761.2 200.5 L761.2 205" stroke-width="1.3" fill="none" />
<line x1="753.4" y1="212.23" x2="753.4" y2="235.97" stroke-width="1.4" />
<line x1="759.7" y1="209.98" x2="759.7" y2="238.22" stroke-width="1.4" />
<line x1="771.8" y1="214.65" x2="771.8" y2="233.55" stroke-width="1.2" />
<circle cx="768.7" cy="231.5" r="21.5" stroke-width="1.6" fill="none"/>
<circle cx="768.7" cy="231.5" r="17.9" stroke-width="1.6" fill="none"/>
<line x1="773" y1="280.2" x2="773" y2="296.0" stroke-width="1.2" />
<line x1="773" y1="312.2" x2="773" y2="328.0" stroke-width="1.2" />
<line x1="772.4" y1="247.37" x2="772.4" y2="264.83" stroke-width="1.2" />
<line x1="756" y1="348.5" x2="775.3" y2="348.5" stroke-width="2" />
<line x1="756.8" y1="348.5" x2="756.8" y2="365.6" stroke-width="1.2" />
<line x1="759.6" y1="349.5" x2="759.6" y2="366.2" stroke-width="1.2" />
<path d="M759.6 350.6 L770 350.6 L770 352 L773 352 L773 350" stroke-width="1.0" fill="none" />
<rect x="785.4" y="349.7" width="45.6" height="27.9" rx="13.95" stroke-width="1.6" fill="none"/>
<line x1="800.4" y1="349.7" x2="800.4" y2="377.6" stroke-width="1.2" />
<line x1="802.6" y1="349.7" x2="802.6" y2="377.6" stroke-width="1.2" />
<line x1="807" y1="349.7" x2="807" y2="377.6" stroke-width="1.2" />
<path d="M813.2 349.7 L813.2 365.5 L830.6 365.5" stroke-width="1.3" fill="none" />
<circle cx="865.8" cy="196.3" r="2.4" stroke-width="1.2" fill="none"/>
<circle cx="1002.6" cy="196.3" r="2.4" stroke-width="1.2" fill="none"/>
<rect x="871.6" y="183.5" width="125.4" height="26.1" rx="0" stroke-width="1.6" fill="none"/>
<path d="M997 188.6 L908 188.6 Q904.8 188.6 904.8 192 L904.8 209.6" stroke-width="1.4" fill="none" />
<line x1="906.4" y1="190.4" x2="906.4" y2="209.6" stroke-width="1.4" />
<line x1="908" y1="189.4" x2="908" y2="209.6" stroke-width="1.0" />
<circle cx="919.7" cy="205.4" r="1.7" stroke-width="1" fill="#000"/>
<circle cx="956.6" cy="200" r="1.7" stroke-width="1" fill="#000"/>
<circle cx="1023.2" cy="194.6" r="14.4" stroke-width="1.6" fill="none"/>
<path d="M1010 188.6 L1036.2 188.6 M1034.4 188.6 L1034.4 203" stroke-width="1.2" fill="none" />
<circle cx="1023.4" cy="205.4" r="1.7" stroke-width="1" fill="#000"/>
</svg>
</body></html>
